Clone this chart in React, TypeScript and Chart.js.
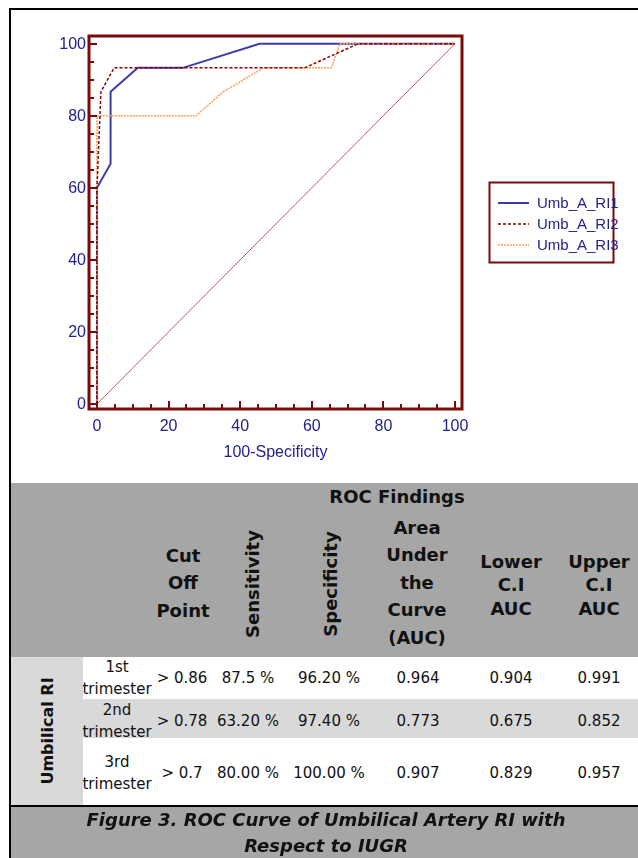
import React, { useEffect, useRef } from "react";
import { Chart, registerables } from "chart.js";

Chart.register(...registerables);

// ---------- chart data ----------
const seriesLabels = ["Umb_A_RI1", "Umb_A_RI2", "Umb_A_RI3"];
const ri1X = [0, 0, 3.8, 3.8, 11.4, 24.0, 45.4, 100];
const ri1Y = [0, 60, 66.7, 86.7, 93.3, 93.3, 100, 100];
const ri2X = [0, 0, 1.1, 4.8, 58.0, 73.0, 100];
const ri2Y = [0, 60, 86.7, 93.3, 93.3, 100, 100];
const ri3X = [0, 0, 27.7, 35.3, 46.5, 65.5, 67.9, 100];
const ri3Y = [0, 80, 80, 86.7, 93.3, 93.3, 100, 100];
const refX = [0, 100];
const refY = [0, 100];
const xTicks = [0, 20, 40, 60, 80, 100];
const yTicks = [0, 20, 40, 60, 80, 100];
const xTitle = "100-Specificity";

// ---------- table data ----------
const tableTitle = "ROC Findings";
const rowGroup = "Umbilical RI";
const trimesters = ["1st", "2nd", "3rd"];
const cutOffs = ["> 0.86", "> 0.78", "> 0.7"];
const sensitivity = ["87.5 %", "63.20 %", "80.00 %"];
const specificity = ["96.20 %", "97.40 %", "100.00 %"];
const aucValues = ["0.964", "0.773", "0.907"];
const lowerCI = ["0.904", "0.675", "0.829"];
const upperCI = ["0.991", "0.852", "0.957"];
const captionLines = ["Figure 3. ROC Curve of Umbilical Artery RI with", "Respect to IUGR"];

const FRAME = "#7a0a0a";
const NAVY = "#22228e";
const AXFONT = "16px 'Liberation Sans', Arial, sans-serif";
const LEGFONT = "15px 'Liberation Sans', Arial, sans-serif";

const toPts = (xs: number[], ys: number[]) => xs.map((x, i) => ({ x, y: ys[i] }));

const framePlugin = {
  id: "frame",
  afterDraw(chart: any) {
    const ctx = chart.ctx;
    const { left, right, top, bottom } = chart.chartArea;
    const xs = chart.scales.x;
    const ys = chart.scales.y;
    ctx.save();
    ctx.strokeStyle = FRAME;
    ctx.lineWidth = 3;
    ctx.strokeRect(left, top, right - left, bottom - top);
    ctx.lineWidth = 2;
    for (let v = 0; v <= 100; v += 5) {
      const major = v % 20 === 0;
      const len = major ? 8 : 5;
      const px = Math.round(xs.getPixelForValue(v)) + 0.0;
      ctx.beginPath();
      ctx.moveTo(px, bottom);
      ctx.lineTo(px, bottom - len);
      ctx.stroke();
      const py = Math.round(ys.getPixelForValue(v));
      ctx.beginPath();
      ctx.moveTo(left, py);
      ctx.lineTo(left + len, py);
      ctx.stroke();
    }
    ctx.fillStyle = NAVY;
    ctx.font = AXFONT;
    ctx.textBaseline = "middle";
    ctx.textAlign = "right";
    yTicks.forEach((v) => ctx.fillText(String(v), left - 3, ys.getPixelForValue(v) + 1));
    ctx.textAlign = "center";
    xTicks.forEach((v) => ctx.fillText(String(v), xs.getPixelForValue(v), bottom + 18));
    ctx.fillText(xTitle, (left + right) / 2, bottom + 44);

    // legend
    const lx = 489.5, ly = 182.5, lw = 124, lh = 80;
    ctx.strokeStyle = FRAME;
    ctx.lineWidth = 2;
    ctx.strokeRect(lx, ly, lw, lh);
    const rows = [203, 224, 245];
    chart.data.datasets.forEach((ds: any, i: number) => {
      if (i >= seriesLabels.length) return;
      const y = rows[i];
      ctx.beginPath();
      ctx.strokeStyle = ds.borderColor;
      ctx.lineWidth = ds.borderWidth;
      ctx.setLineDash(ds.borderDash || []);
      ctx.moveTo(498, y);
      ctx.lineTo(529, y);
      ctx.stroke();
      ctx.setLineDash([]);
      ctx.fillStyle = NAVY;
      ctx.font = LEGFONT;
      ctx.textAlign = "left";
      ctx.textBaseline = "middle";
      ctx.fillText(ds.label, 537, y + 1);
    });
    ctx.restore();
  },
};

function RocChart() {
  const ref = useRef<HTMLCanvasElement | null>(null);
  useEffect(() => {
    if (!ref.current) return;
    const chart = new Chart(ref.current, {
      type: "line",
      data: {
        datasets: [
          {
            label: seriesLabels[0],
            data: toPts(ri1X, ri1Y),
            borderColor: "#3c3ca6",
            borderWidth: 2,
            pointRadius: 0,
            order: 3,
          },
          {
            label: seriesLabels[1],
            data: toPts(ri2X, ri2Y),
            borderColor: "#8b0000",
            borderWidth: 1.5,
            borderDash: [3, 2],
            pointRadius: 0,
            order: 1,
          },
          {
            label: seriesLabels[2],
            data: toPts(ri3X, ri3Y),
            borderColor: "#ffa055",
            borderWidth: 1.5,
            borderDash: [2, 1],
            pointRadius: 0,
            order: 2,
          },
          {
            label: "ref",
            data: toPts(refX, refY),
            borderColor: "#b86060",
            borderWidth: 1,
            pointRadius: 0,
            order: 4,
          },
        ],
      },
      options: {
        animation: false,
        responsive: false,
        parsing: true,
        layout: { padding: { left: 89, top: 36, right: 176, bottom: 74 } },
        plugins: { legend: { display: false }, tooltip: { enabled: false }, title: { display: false } },
        scales: {
          x: { type: "linear", min: -2.23, max: 101.96, display: false },
          y: { type: "linear", min: -1.39, max: 102.14, display: false },
        },
        elements: { line: { tension: 0 } },
      },
      plugins: [framePlugin],
    } as any);
    return () => chart.destroy();
  }, []);
  return (
    <canvas
      ref={ref}
      width={638}
      height={483}
      style={{ position: "absolute", left: 0, top: 0, width: 638, height: 483 }}
    />
  );
}

const BODY = "'DejaVu Sans', Verdana, sans-serif";

function At({ x, y, children, style }: any) {
  return (
    <div
      style={{
        position: "absolute",
        left: x,
        top: y,
        transform: "translate(-50%, -50%)",
        whiteSpace: "nowrap",
        textAlign: "center",
        ...style,
      }}
    >
      {children}
    </div>
  );
}

export default function App() {
  const head = { fontFamily: BODY, fontWeight: "bold", fontSize: 18, color: "#111" };
  const cell = { fontFamily: BODY, fontSize: 15, color: "#111" };
  const rowY = [678, 720.5, 773];
  return (
    <div style={{ position: "absolute", left: 0, top: 0, width: 638, height: 858, overflow: "hidden", background: "#fff" }}>
      <RocChart />
      {/* header grey */}
      <div style={{ position: "absolute", left: 10, top: 483, width: 628, height: 174, background: "#a6a6a6" }} />
      {/* rows */}
      <div style={{ position: "absolute", left: 10, top: 699, width: 628, height: 39, background: "#d9d9d9" }} />
      <div style={{ position: "absolute", left: 10, top: 657, width: 73, height: 148, background: "#d9d9d9" }} />
      {/* caption grey */}
      <div style={{ position: "absolute", left: 10, top: 807, width: 628, height: 51, background: "#a6a6a6" }} />
      {/* black borders */}
      <div style={{ position: "absolute", left: 9, top: 8, width: 629, height: 2, background: "#000" }} />
      <div style={{ position: "absolute", left: 9, top: 8, width: 2, height: 850, background: "#000" }} />
      <div style={{ position: "absolute", left: 9, top: 805, width: 629, height: 2, background: "#000" }} />

      <At x={397} y={496} style={head}>{tableTitle}</At>
      <At x={183} y={582.5} style={{ ...head, lineHeight: "27.5px" }}>
        <div>Cut</div><div>Off</div><div>Point</div>
      </At>
      <At x={252} y={584} style={{ ...head, transform: "translate(-50%, -50%) rotate(-90deg)" }}>Sensitivity</At>
      <At x={330} y={584} style={{ ...head, transform: "translate(-50%, -50%) rotate(-90deg)" }}>Specificity</At>
      <At x={417} y={582.5} style={{ ...head, lineHeight: "27.5px" }}>
        <div>Area</div><div>Under</div><div>the</div><div>Curve</div><div>(AUC)</div>
      </At>
      <At x={511} y={584.5} style={{ ...head, lineHeight: "23.5px" }}>
        <div>Lower</div><div>C.I</div><div>AUC</div>
      </At>
      <At x={599} y={584.5} style={{ ...head, lineHeight: "23.5px" }}>
        <div>Upper</div><div>C.I</div><div>AUC</div>
      </At>

      <At x={47} y={731} style={{ ...head, fontSize: 16, transform: "translate(-50%, -50%) rotate(-90deg)" }}>{rowGroup}</At>

      {trimesters.map((t, i) => (
        <React.Fragment key={t}>
          <At x={117} y={rowY[i]} style={{ ...cell, lineHeight: "22px" }}>
            <div>{t}</div><div>trimester</div>
          </At>
          <At x={182} y={rowY[i]} style={cell}>{cutOffs[i]}</At>
          <At x={248} y={rowY[i]} style={cell}>{sensitivity[i]}</At>
          <At x={329} y={rowY[i]} style={cell}>{specificity[i]}</At>
          <At x={418} y={rowY[i]} style={cell}>{aucValues[i]}</At>
          <At x={511} y={rowY[i]} style={cell}>{lowerCI[i]}</At>
          <At x={599} y={rowY[i]} style={cell}>{upperCI[i]}</At>
        </React.Fragment>
      ))}

      <At x={326} y={833} style={{ ...head, fontStyle: "italic", lineHeight: "26px" }}>
        {captionLines.map((l) => <div key={l}>{l}</div>)}
      </At>
    </div>
  );
}
